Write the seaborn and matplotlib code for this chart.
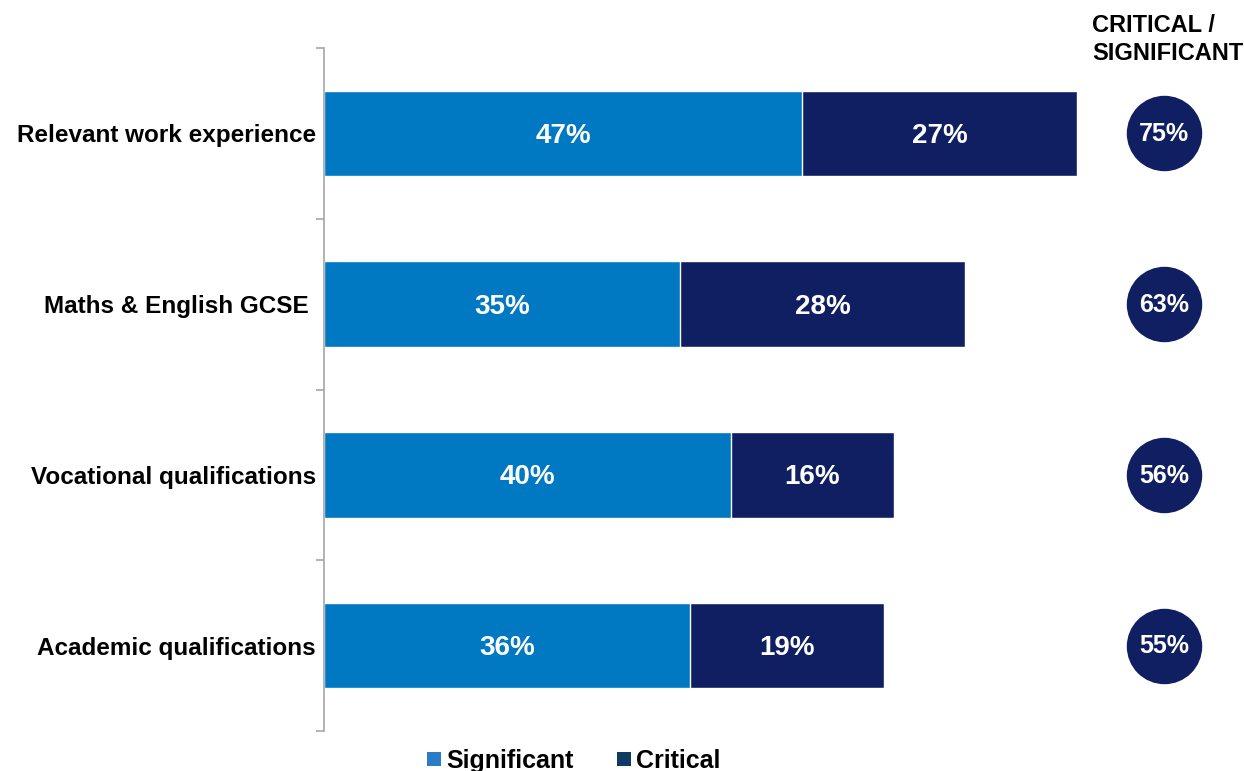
import matplotlib
matplotlib.use("Agg")
import matplotlib.pyplot as plt
from matplotlib.lines import Line2D
import seaborn as sns
import pandas as pd

categories = ["Relevant work experience", "Maths & English GCSE ",
              "Vocational qualifications", "Academic qualifications"]
significant = [47, 35, 40, 36]
critical = [27, 28, 16, 19]
combined = [75, 63, 56, 55]

SIG_COLOR = "#0079C2"
CRIT_COLOR = "#101F62"

sns.set_theme(style="white")
plt.rcParams["font.family"] = ["Liberation Sans", "DejaVu Sans"]
plt.rcParams["font.weight"] = "bold"
plt.rcParams["text.color"] = "black"

df = pd.DataFrame({
    "category": categories,
    "significant": significant,
    "critical": critical,
})
df["stack"] = df["significant"] + df["critical"]

fig = plt.figure(figsize=(12.44, 7.71), dpi=100)
ax = fig.add_axes([324 / 1244, 1 - 731 / 771, 1 - 324 / 1244, (731 - 48) / 771])

# stacked bars: full length in the critical colour, significant share drawn over it
sns.barplot(data=df, y="category", x="stack", color=CRIT_COLOR, width=0.5,
            saturation=1, ax=ax, orient="h")
sns.barplot(data=df, y="category", x="significant", color=SIG_COLOR, width=0.5,
            saturation=1, ax=ax, orient="h")

px_per_unit = (1077 - 324) / 74.0
ax.set_xlim(0, (1244 - 324) / px_per_unit)
ax.set_ylim(3.5, -0.5)

for i, (s, c) in enumerate(zip(significant, critical)):
    ax.text(s / 2, i + 0.015, f"{s}%", ha="center", va="center", color="white",
            fontsize=20, fontweight="bold")
    ax.text(s + c / 2, i + 0.015, f"{c}%", ha="center", va="center", color="white",
            fontsize=20, fontweight="bold")

# combined totals in circles on the right
circle_x = (1164 - 324) / px_per_unit
ax.scatter([circle_x] * len(combined), range(len(combined)), s=2950,
           color=CRIT_COLOR, clip_on=False, zorder=5, linewidths=0)
for i, v in enumerate(combined):
    ax.text(circle_x, i + 0.005, f"{v}%", ha="center", va="center", color="white",
            fontsize=18, fontweight="bold", zorder=6)

fig.text(1092 / 1244, 1 - 14 / 771, "CRITICAL /\nSIGNIFICANT", ha="left", va="top",
         fontsize=17, fontweight="bold", color="black", linespacing=1.3)

# axis styling
for side in ["top", "right", "bottom"]:
    ax.spines[side].set_visible(False)
ax.spines["left"].set_color("#A6A6A6")
ax.spines["left"].set_linewidth(1.2)
ax.set_xlabel("")
ax.set_ylabel("")
ax.set_xticks([])
ax.set_yticks(range(len(categories)))
ax.set_yticklabels(categories, fontsize=17.5, fontweight="bold", color="black")
ax.tick_params(axis="y", which="major", length=0, pad=6)
ax.set_yticks([-0.5, 0.5, 1.5, 2.5, 3.5], minor=True)
ax.tick_params(axis="y", which="minor", length=6, width=1.2, color="#A6A6A6",
               left=True, direction="out")

handles = [
    Line2D([0], [0], marker="s", linestyle="none", markersize=10,
           markerfacecolor="#2A7DC5", markeredgewidth=0, label="Significant"),
    Line2D([0], [0], marker="s", linestyle="none", markersize=10,
           markerfacecolor="#0D3B63", markeredgewidth=0, label="Critical"),
]
fig.legend(handles=handles, loc="lower center", bbox_to_anchor=(572 / 1244, -0.032),
           ncol=2, frameon=False, handletextpad=0.1, labelcolor="black",
           columnspacing=1.6, handlelength=0.8, prop={"weight": "bold", "size": 18})

fig.savefig("out.png", dpi=100)
